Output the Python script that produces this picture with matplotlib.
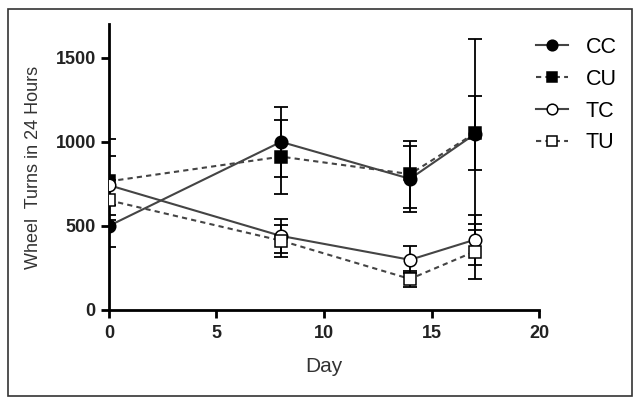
import matplotlib.pyplot as plt
from matplotlib.patches import Rectangle

plt.rcParams["font.family"] = ["Liberation Sans", "DejaVu Sans"]

days = [0, 8, 14, 17]

cc_mean = [500, 1000, 780, 1045]
cc_err = [125, 210, 195, 570]
cu_mean = [765, 912, 808, 1050]
cu_err = [250, 220, 200, 220]
tc_mean = [742, 440, 298, 417]
tc_err = [175, 100, 80, 150]
tu_mean = [652, 412, 184, 347]
tu_err = [120, 95, 50, 165]

series = [
    ("CC", cc_mean, cc_err, "o", "black", "-"),
    ("CU", cu_mean, cu_err, "s", "black", (0, (2.5, 2))),
    ("TC", tc_mean, tc_err, "o", "white", "-"),
    ("TU", tu_mean, tu_err, "s", "white", (0, (2.5, 2))),
]

fig = plt.figure(figsize=(6.41, 4.04), dpi=100)
ax = fig.add_axes([0.170, 0.233, 0.671, 0.707])

for name, mean, err, marker, face, ls in series:
    ax.errorbar(days, mean, yerr=err, fmt="none", ecolor="black",
                elinewidth=1.3, capsize=5, capthick=1.3, zorder=2)
    ax.plot(days, mean, color="#444444", linestyle=ls, linewidth=1.5,
            marker=marker, markersize=9, markerfacecolor=face,
            markeredgecolor="black", markeredgewidth=1.1,
            label=name, zorder=3)

ax.set_xlim(0, 20)
ax.set_ylim(0, 1700)
ax.set_xticks([0, 5, 10, 15, 20])
ax.set_yticks([0, 500, 1000, 1500])
ax.spines["top"].set_visible(False)
ax.spines["right"].set_visible(False)
for s in ("left", "bottom"):
    ax.spines[s].set_linewidth(2)
ax.tick_params(width=2, length=6, direction="out", labelsize=13)
ax.tick_params(axis="x", pad=5)
for lbl in ax.get_xticklabels() + ax.get_yticklabels():
    lbl.set_fontweight("bold")
    lbl.set_color("#222222")

ax.set_xlabel("Day", fontsize=15, color="#333333", labelpad=11)
ax.set_ylabel("Wheel  Turns in 24 Hours", fontsize=13, color="#333333",
              labelpad=10)

leg = ax.legend(loc="upper left", bbox_to_anchor=(536 / 641, 1 - 37 / 404),
                bbox_transform=fig.transFigure, frameon=False,
                borderaxespad=0, borderpad=0, fontsize=15.5,
                handlelength=1.5, labelspacing=0.5, handletextpad=0.8,
                markerscale=0.85)

fig.patches.append(Rectangle((8 / 641, 8 / 404), 624 / 641, 387 / 404,
                             transform=fig.transFigure, fill=False,
                             edgecolor="#333333", linewidth=1.2))

fig.savefig("out.png", dpi=100)
